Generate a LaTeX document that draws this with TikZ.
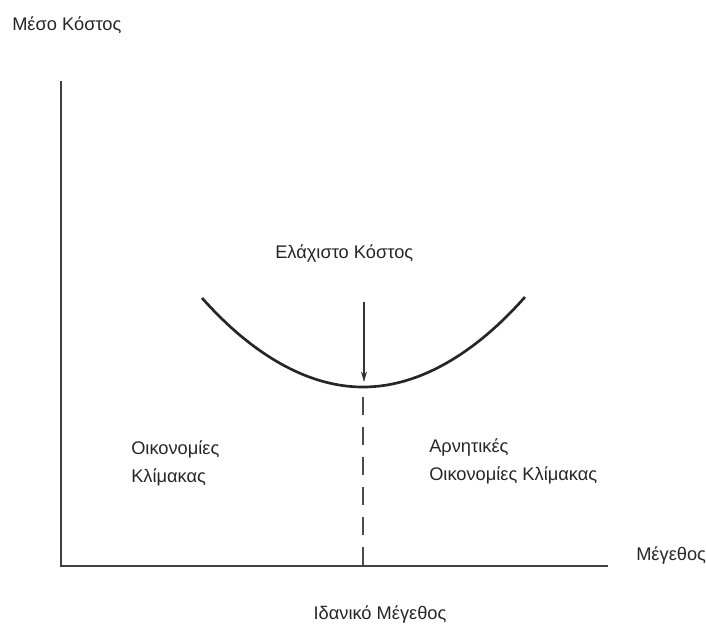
\documentclass[tikz,border=0pt]{standalone}
\usepackage{fontspec}
\setmainfont{Liberation Sans}
\usetikzlibrary{arrows.meta, positioning}
\begin{document}
\begin{tikzpicture}[x=0.75pt,y=-0.75pt]
    \tikzset{
        text node/.style={inner sep=0, anchor=base west, align=left, text=black!85, font=\fontsize{13.7}{21}\selectfont},
        axis line/.style={line width=1.5pt, draw=black!75},
        cost curve/.style={line width=2pt, draw=black!85},
        guide line/.style={line width=1.3pt, draw=black!70, dash pattern=on 13.5pt off 9pt},
        min arrow/.style={line width=0.8pt, draw=black!80, -{Stealth[length=8pt, width=4.5pt]}}
      }
\useasboundingbox (0,0) rectangle (706,626);
\coordinate (origin) at (61,566);
\coordinate (ytop) at (61,81);
\coordinate (xend) at (608,566);
\coordinate (left end) at (202,298);
\coordinate (bottom) at (363,387);
\coordinate (right end) at (525,297);
\coordinate (arrow start) at (364,302);
\coordinate (arrow tip) at (364,382);
\coordinate (dash start) at (363,397);
\coordinate (foot) at (363,566);
\draw[axis line] (ytop) -- (origin) -- (xend);
\draw[cost curve] (left end) parabola bend (bottom) (right end);
\draw[min arrow] (arrow start) -- (arrow tip);
\draw[guide line] (dash start) -- (foot);
\node[text node] (ylabel) at (12,30) {Μέσο Κόστος};
\node[text node] (xlabel) at (636,560) {Μέγεθος};
\node[text node] (mincost) at (275,258) {Ελάχιστο Κόστος};
\node[text node, anchor=base] (optsize) at (380,619) {Ιδανικό Μέγεθος};
\node[text node] (scale eco) at (131,482) {Οικονομίες\\Κλίμακας};
\node[text node] (scale dis) at (429,480) {Αρνητικές\\Οικονομίες Κλίμακας};
\end{tikzpicture}
\end{document}
